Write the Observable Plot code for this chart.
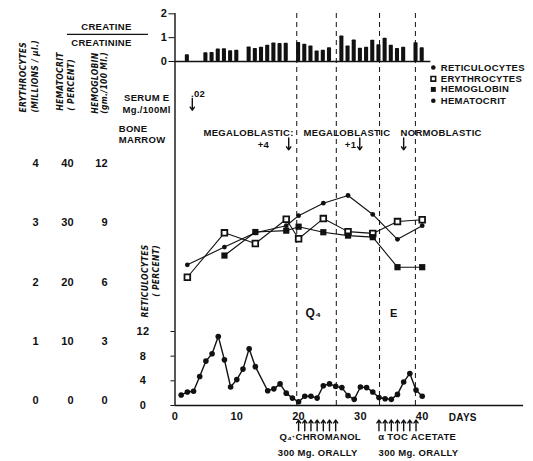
<!DOCTYPE html>
<html><head><meta charset="utf-8">
<script src="https://cdn.jsdelivr.net/npm/d3@7"></script>
<script src="https://cdn.jsdelivr.net/npm/@observablehq/plot@0.6"></script>
<style>
body{margin:0;background:#fff;}
#wrap{position:relative;width:533px;height:461px;background:#fff;}
#wrap svg{position:absolute;left:0;top:0;}
</style></head><body><div id="wrap"></div>
<script>
// ---- data ----
const barDays  = [2,5,6,7,8,9,10,12,13,14,15,16,17,18,20,21,22,23,24,25,27,28,29,30,31,32,33,34,35,36,37,39,40];
const barRatio = [0.28,0.37,0.38,0.52,0.53,0.45,0.47,0.61,0.55,0.6,0.68,0.78,0.75,0.76,0.8,0.72,0.65,0.44,0.47,0.58,1.07,0.65,0.9,0.56,0.6,0.89,0.7,0.98,0.68,0.55,0.6,0.79,0.58];

const hemDays      = [2,8,13,18,20,24,28,32,36,40];
const hematocrit   = [22.9,25.9,28.3,29.5,31.2,33.3,34.6,31.4,27.2,29.5];
const erythrocytes = [2.08,2.83,2.65,3.06,2.73,3.07,2.85,2.82,3.02,3.05];
const hgbDays      = [8,13,18,20,24,28,32,36,40];
const hemoglobin   = [7.34,8.53,8.6,8.8,8.52,8.35,8.27,6.75,6.75];

const retDays = [1,2,3,4,5,6,7,8,9,10,11,12,13,15,16,17,18,19,20,21,22,23,24,25,26,27,28,29,30,31,32,33,34,35,36,37,38,39,40];
const reticulocytes = [1.7,2.2,2.3,4.7,7.2,8.4,11.2,7.4,3.0,4.2,5.9,9.2,6.3,2.4,2.7,3.5,2.0,1.2,0.6,1.5,1.5,1.2,3.2,3.5,3.1,2.9,1.6,1.0,3.0,2.9,2.2,1.3,1.1,1.0,1.8,3.8,5.2,2.5,1.5];

const phaseLines = [19.7,26.1,33.1,38.9];
const doseDaysQ4 = [20,21,22,23,24,25,26];
const doseDaysE  = [33,34,35,36,37,38,39];
const serumDays  = [2.8];
const marrowDays = [18.4,29.9,37.0];

const ratioTicks = [0,1,2];
const erythroTicks = [0,1,2,3,4];
const hctTicks = [0,10,20,30,40];
const hgbTicks = [0,3,6,9,12];
const retTicks = [0,4,8,12];
const dayTicks = [0,10,20,30,40];

const bars = barDays.map((d,i)=>({day:d, ratio:barRatio[i]}));
const hct = hemDays.map((d,i)=>({day:d, v:hematocrit[i]}));
const ery = hemDays.map((d,i)=>({day:d, v:erythrocytes[i]}));
const hgb = hgbDays.map((d,i)=>({day:d, v:hemoglobin[i]}));
const ret = retDays.map((d,i)=>({day:d, v:reticulocytes[i]}));

// annotation texts (x in days, y in hematocrit-scale units)
const notes = [
  {t:"CREATINE", x:-11.1, y:63.1, a:"middle", s:9.5},
  {t:"CREATININE", x:-11.9, y:60.3, a:"middle", s:9.5},
  {t:"SERUM E", x:-0.9, y:51.0, a:"end", s:9.5},
  {t:"Mg./100Ml", x:-0.7, y:49.1, a:"end", s:9.5},
  {t:"BONE", x:-9.1, y:45.9, a:"start", s:9.5},
  {t:"MARROW", x:-9.1, y:43.9, a:"start", s:9.5},
  {t:".02", x:2.6, y:51.8, a:"start", s:9.5},
  {t:"MEGALOBLASTIC:", x:4.6, y:45.2, a:"start", s:9.5},
  {t:"MEGALOBLASTIC", x:20.8, y:45.2, a:"start", s:9.5},
  {t:"NORMOBLASTIC", x:36.5, y:45.2, a:"start", s:9.5},
  {t:"+4", x:14.3, y:43.2, a:"middle", s:9.5},
  {t:"+1", x:28.4, y:43.2, a:"middle", s:9.5},
  {t:"RETICULOCYTES", x:43.0, y:56.2, a:"start", s:9.5},
  {t:"ERYTHROCYTES", x:43.0, y:54.3, a:"start", s:9.5},
  {t:"HEMOGLOBIN", x:43.0, y:52.5, a:"start", s:9.5},
  {t:"HEMATOCRIT", x:43.0, y:50.6, a:"start", s:9.5},
  {t:"Q₄", x:22.4, y:14.7, a:"middle", s:12},
  {t:"E", x:35.4, y:14.7, a:"middle", s:11},
  {t:"DAYS", x:44.3, y:-2.9, a:"start", s:10},
  {t:"Q₄·CHROMANOL", x:23.5, y:-6.2, a:"middle", s:9.5},
  {t:"300 Mg. ORALLY", x:23.1, y:-8.8, a:"middle", s:9.5},
  {t:"α TOC ACETATE", x:39.2, y:-6.2, a:"middle", s:9.5},
  {t:"300 Mg. ORALLY", x:39.4, y:-8.8, a:"middle", s:9.5}
];
const rotNotes = [
  {t:"ERYTHROCYTES", x:-24.5, y:48.6},
  {t:"(MILLIONS / µl.)", x:-22.6, y:48.6},
  {t:"HEMATOCRIT", x:-18.6, y:48.9},
  {t:"( PERCENT)", x:-16.8, y:48.9},
  {t:"HEMOGLOBIN", x:-12.9, y:48.4},
  {t:"(gm./100 Ml.)", x:-11.4, y:48.4},
  {t:"RETICULOCYTES", x:-4.8, y:14.0},
  {t:"( PERCENT)", x:-3.0, y:17.5}
];
const legendKeys = [
  {k:"ret", x:41.8, y:56.2},
  {k:"ery", x:41.8, y:54.3},
  {k:"hgb", x:41.8, y:52.5},
  {k:"hct", x:41.8, y:50.6}
];

// ---- layers ----
const W = 533, H = 461;
const font = "'Liberation Sans', Arial, sans-serif";
function layer(opts) {
  return Plot.plot(Object.assign({
    width: W, height: H,
    marginLeft: 174.5, marginRight: 111.3,
    x: {domain: [0, 40], axis: null},
    style: {background: "transparent", fontFamily: font, fontSize: "10px", fontWeight: "bold", color: "#111", overflow: "visible", letterSpacing: "0.3px"}
  }, opts));
}
const ink = "#111";
const wrap = document.getElementById("wrap");
const noteMark = (anchor) => Plot.text(notes.filter(d => d.a === anchor), {x: "x", y: "y", text: "t", textAnchor: anchor, fontSize: "s", fill: ink, fontWeight: "bold"});

// frame: left axis line + dashed phase lines
wrap.append(layer({
  marginTop: 13, marginBottom: 56,
  marks: [
    Plot.ruleX([0], {stroke: ink, strokeWidth: 1.4}),
    Plot.ruleX(phaseLines, {stroke: ink, strokeWidth: 1, strokeDasharray: "5,4"})
  ]
}));

// creatine/creatinine bars
wrap.append(layer({
  marginTop: 13.3, marginBottom: 400,
  y: {domain: [0, 2], axis: null},
  marks: [
    Plot.rectY(bars, {x1: d => d.day - 0.33, x2: d => d.day + 0.33, y: "ratio", fill: ink, rx: 0.8}),
    Plot.ruleY([0], {x1: 0, x2: 41.4, stroke: ink, strokeWidth: 1.3}),
    Plot.axisY(ratioTicks, {label: null, tickSize: 6, tickPadding: 5, textAnchor: "middle", fontSize: 11, stroke: ink})
  ]
}));

// hematocrit
wrap.append(layer({
  marginTop: 163, marginBottom: 61,
  y: {domain: [0, 40], axis: null},
  marks: [
    Plot.line(hct, {x: "day", y: "v", stroke: ink, strokeWidth: 1.1}),
    Plot.dot(hct, {x: "day", y: "v", r: 2.4, fill: ink}),
    Plot.axisY(hctTicks, {label: null, tickSize: 0, tickPadding: 101, fontSize: 11, tickFormat: d => String(d)})
  ]
}));

// erythrocytes
wrap.append(layer({
  marginTop: 163, marginBottom: 61,
  y: {domain: [0, 4], axis: null},
  marks: [
    Plot.line(ery, {x: "day", y: "v", stroke: ink, strokeWidth: 1.1}),
    Plot.dot(ery, {x: "day", y: "v", symbol: "square", r: 3.2, fill: "white", stroke: ink, strokeWidth: 1.8}),
    Plot.axisY(erythroTicks, {label: null, tickSize: 0, tickPadding: 136, fontSize: 11, tickFormat: d => String(d)})
  ]
}));

// hemoglobin
wrap.append(layer({
  marginTop: 163, marginBottom: 61,
  y: {domain: [0, 12], axis: null},
  marks: [
    Plot.line(hgb, {x: "day", y: "v", stroke: ink, strokeWidth: 1.1}),
    Plot.dot(hgb, {x: "day", y: "v", symbol: "square", r: 3.5, fill: ink}),
    Plot.axisY(hgbTicks, {label: null, tickSize: 0, tickPadding: 67, fontSize: 11, tickFormat: d => String(d)})
  ]
}));

// reticulocytes + day axis
wrap.append(layer({
  marginTop: 331, marginBottom: 56,
  y: {domain: [0, 12], axis: null},
  marks: [
    Plot.ruleY([0], {x1: 0, x2: 56.4, stroke: ink, strokeWidth: 1.6}),
    Plot.line(ret, {x: "day", y: "v", stroke: ink, strokeWidth: 1.4}),
    Plot.dot(ret, {x: "day", y: "v", r: 2.8, fill: ink}),
    Plot.axisY(retTicks, {label: null, tickSize: 4, tickPadding: 28, textAnchor: "middle", fontSize: 11, stroke: ink, tickFormat: d => String(d)}),
    Plot.axisX(dayTicks, {label: null, tickSize: 0, tickPadding: 7, fontSize: 11, tickFormat: d => String(d)})
  ]
}));

// annotations
wrap.append(layer({
  marginTop: 163, marginBottom: 61,
  y: {domain: [0, 40], axis: null},
  marks: [
    Plot.ruleY([61.8], {x1: -17.4, x2: -4.3, stroke: ink, strokeWidth: 1.3}),
    noteMark("start"), noteMark("middle"), noteMark("end"),
    Plot.text(rotNotes, {x: "x", y: "y", text: "t", rotate: -90, textAnchor: "start", fontSize: 8.5, fontStyle: "italic", fill: ink, fontWeight: "bold", fontFamily: "'Liberation Sans Narrow', 'DejaVu Sans Condensed', sans-serif"}),
    Plot.dot(legendKeys.filter(d => d.k === "ret" || d.k === "hct"), {x: "x", y: "y", r: 2.3, fill: ink}),
    Plot.dot(legendKeys.filter(d => d.k === "ery"), {x: "x", y: "y", symbol: "square", r: 2.6, fill: "white", stroke: ink, strokeWidth: 1.6}),
    Plot.dot(legendKeys.filter(d => d.k === "hgb"), {x: "x", y: "y", symbol: "square", r: 2.8, fill: ink}),
    Plot.arrow(serumDays, {x1: d => d, x2: d => d, y1: 51.0, y2: 49.0, stroke: ink, strokeWidth: 1.4, headLength: 4, headAngle: 70}),
    Plot.arrow(marrowDays, {x1: d => d, x2: d => d, y1: 44.3, y2: 42.3, stroke: ink, strokeWidth: 1.4, headLength: 4, headAngle: 70}),
    Plot.arrow(doseDaysQ4.concat(doseDaysE), {x1: d => d, x2: d => d, y1: -5.1, y2: -3.3, stroke: ink, strokeWidth: 1.4, headLength: 4, headAngle: 70})
  ]
}));
</script></body></html>
